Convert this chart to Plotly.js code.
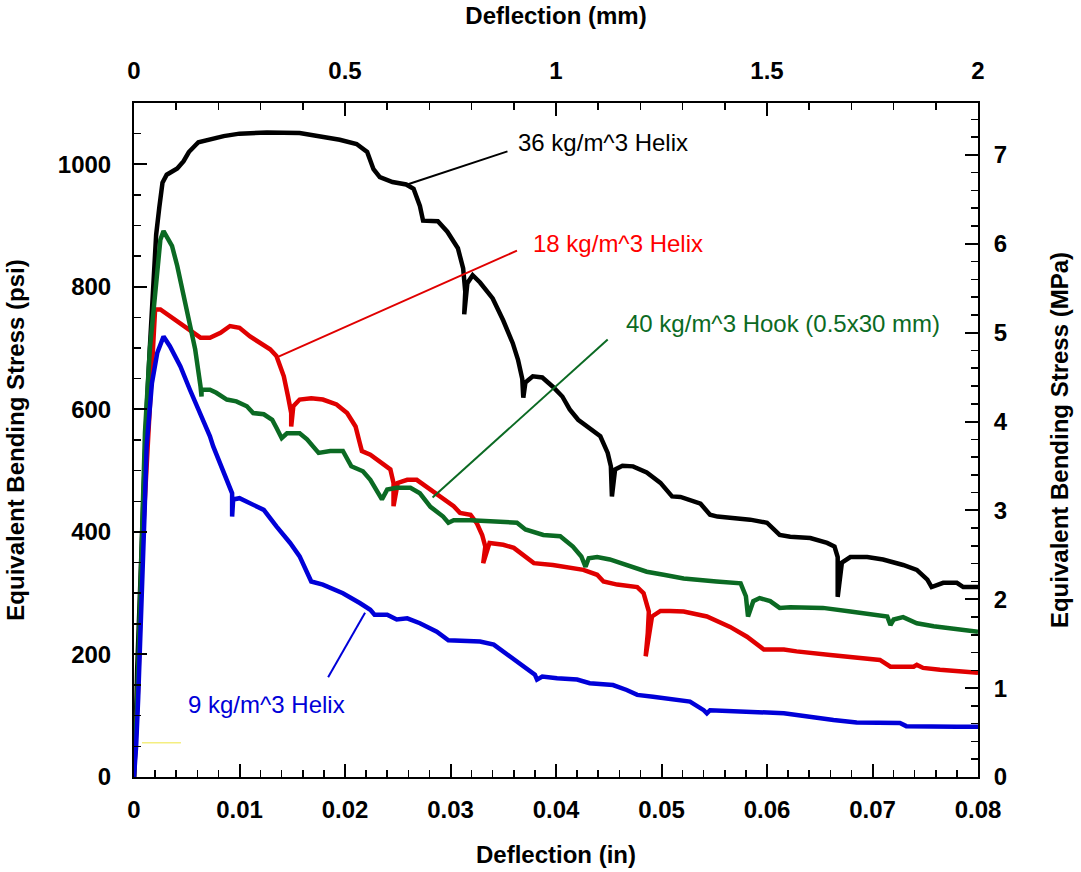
<!DOCTYPE html>
<html>
<head>
<meta charset="utf-8">
<script src="https://cdn.plot.ly/plotly-3.0.1.min.js"></script>
<style>html,body{margin:0;padding:0;background:#fff;}#chart{width:1081px;height:872px;}</style>
</head>
<body>
<div id="chart"></div>
<script>
// ---- Data (deflection in inches, equivalent bending stress in psi) ----
const helix36 = [[0,0],[0.0001,40],[0.0002,100],[0.0003,175],[0.0006,330],[0.0009,480],[0.0012,600],[0.0015,700],[0.0018,800],[0.0021,885],[0.0024,930],[0.0027,970],[0.0031,983],[0.0036,988],[0.0041,993],[0.0047,1005],[0.0052,1020],[0.0061,1036],[0.0072,1041],[0.0085,1046],[0.0100,1050],[0.0126,1052],[0.0157,1051],[0.0180,1045],[0.0195,1040],[0.0211,1033],[0.0221,1020],[0.0227,992],[0.0233,979],[0.0245,971],[0.0258,967],[0.0265,960],[0.0271,932],[0.0274,908],[0.0288,907],[0.0297,890],[0.0307,863],[0.0312,830],[0.0314,792],[0.0313,755],[0.0316,806],[0.0321,819],[0.0328,807],[0.0340,781],[0.0350,745],[0.0359,708],[0.0364,681],[0.0368,650],[0.0369,619],[0.0371,644],[0.0378,654],[0.0387,652],[0.0397,637],[0.0406,621],[0.0413,600],[0.0421,583],[0.0429,572],[0.0442,556],[0.0449,529],[0.0452,507],[0.0453,458],[0.0456,502],[0.0463,508],[0.0473,507],[0.0486,497],[0.0499,480],[0.0510,458],[0.0518,457],[0.0537,446],[0.0546,428],[0.0553,425],[0.0568,423],[0.0584,420],[0.0600,415],[0.0612,395],[0.0622,392],[0.0641,390],[0.0657,382],[0.0664,376],[0.0667,359],[0.0667,294],[0.0671,350],[0.0679,359],[0.0695,359],[0.0710,355],[0.0729,346],[0.0742,338],[0.0752,322],[0.0756,310],[0.0767,317],[0.0780,317],[0.0786,310],[0.0800,310]];
const helix18 = [[0,0],[0.0002,60],[0.0004,150],[0.0008,380],[0.0012,500],[0.0015,600],[0.0017,681],[0.0020,763],[0.0025,763],[0.0034,752],[0.0044,741],[0.0053,728],[0.0063,717],[0.0072,717],[0.0082,725],[0.0091,736],[0.0100,733],[0.0110,719],[0.0119,708],[0.0129,698],[0.0135,687],[0.0142,654],[0.0146,621],[0.0149,594],[0.0149,572],[0.0151,605],[0.0157,616],[0.0168,618],[0.0179,616],[0.0192,608],[0.0202,594],[0.0210,572],[0.0214,545],[0.0216,532],[0.0224,526],[0.0236,512],[0.0243,502],[0.0246,480],[0.0246,442],[0.0250,480],[0.0259,485],[0.0268,485],[0.0281,469],[0.0293,455],[0.0303,442],[0.0309,431],[0.0319,428],[0.0325,414],[0.0330,395],[0.0333,376],[0.0331,349],[0.0337,382],[0.0350,379],[0.0360,374],[0.0369,363],[0.0379,349],[0.0397,346],[0.0413,342],[0.0426,338],[0.0439,330],[0.0445,319],[0.0458,314],[0.0477,310],[0.0483,300],[0.0488,270],[0.0487,235],[0.0485,197],[0.0491,262],[0.0499,271],[0.0508,271],[0.0521,270],[0.0543,262],[0.0565,245],[0.0581,229],[0.0590,218],[0.0597,208],[0.0616,208],[0.0628,205],[0.0660,199],[0.0707,191],[0.0717,180],[0.0739,180],[0.0742,183],[0.0748,178],[0.0764,175],[0.0796,172],[0.0800,170]];
const hook40 = [[0,0],[0.0003,120],[0.0006,300],[0.00104,562],[0.0015,698],[0.0022,833],[0.0025,877],[0.0028,891],[0.0036,867],[0.0041,834],[0.0047,785],[0.0053,736],[0.0058,698],[0.0063,638],[0.0064,621],[0.0064,632],[0.0072,632],[0.0078,627],[0.0088,616],[0.0097,613],[0.0107,605],[0.0113,594],[0.0123,592],[0.0131,583],[0.0135,570],[0.0140,553],[0.0145,561],[0.0157,561],[0.0164,551],[0.0170,540],[0.0175,529],[0.0186,532],[0.0198,532],[0.0206,507],[0.0217,499],[0.0224,485],[0.0230,469],[0.0235,453],[0.0240,469],[0.0249,472],[0.0262,472],[0.0271,463],[0.0281,441],[0.0293,425],[0.0298,415],[0.0303,419],[0.0319,419],[0.0350,417],[0.0363,415],[0.0371,404],[0.0388,395],[0.0404,393],[0.0416,376],[0.0424,360],[0.0428,343],[0.0431,357],[0.0439,359],[0.0451,355],[0.0470,344],[0.0486,335],[0.0502,330],[0.0521,324],[0.0552,319],[0.0575,316],[0.0580,295],[0.0582,262],[0.0587,287],[0.0593,292],[0.0603,287],[0.0612,276],[0.0622,277],[0.0653,276],[0.0679,270],[0.0714,262],[0.0717,248],[0.0720,257],[0.0729,261],[0.0742,251],[0.0758,246],[0.0774,243],[0.0800,237]];
const helix9 = [[0,0],[0.0002,50],[0.0004,130],[0.0006,250],[0.0008,330],[0.0010,430],[0.0012,540],[0.0017,643],[0.0022,692],[0.0028,719],[0.0034,703],[0.0044,670],[0.0053,632],[0.0063,594],[0.0072,556],[0.0075,540],[0.0085,496],[0.0093,463],[0.0093,425],[0.0094,453],[0.0100,455],[0.0110,447],[0.0123,436],[0.0135,409],[0.0148,382],[0.0157,360],[0.0164,333],[0.0168,319],[0.0179,314],[0.0198,300],[0.0214,284],[0.0224,273],[0.0228,265],[0.0233,265],[0.0240,265],[0.0249,257],[0.0259,259],[0.0271,251],[0.0287,237],[0.0298,223],[0.0328,221],[0.0341,216],[0.0350,205],[0.0366,186],[0.0380,167],[0.0382,159],[0.0387,164],[0.0401,161],[0.0420,159],[0.0432,153],[0.0454,150],[0.0467,142],[0.0477,134],[0.0492,131],[0.0508,128],[0.0527,123],[0.0540,109],[0.0543,104],[0.0546,109],[0.0578,107],[0.0616,104],[0.0663,93],[0.0685,89],[0.0726,88],[0.0732,83],[0.0780,82],[0.0800,82]];

const seriesNames = ["36 kg/m^3 Helix", "18 kg/m^3 Helix", "40 kg/m^3 Hook (0.5x30 mm)", "9 kg/m^3 Helix"];
const bottomTickVals = [0, 0.01, 0.02, 0.03, 0.04, 0.05, 0.06, 0.07, 0.08];
const bottomTickText = ["0", "0.01", "0.02", "0.03", "0.04", "0.05", "0.06", "0.07", "0.08"];
const topTickVals = [0, 0.5, 1, 1.5, 2];
const topTickText = ["0", "0.5", "1", "1.5", "2"];
const psiTickVals = [0, 200, 400, 600, 800, 1000];
const mpaTickVals = [0, 1, 2, 3, 4, 5, 6, 7];
const PSI_PER_MPA = 145.038;
const PSI_MAX = 1100;

// label anchors: [x_in, psi] for leader line start (on curve), leader end, text position
const labelLineStart = [[0.0259, 967], [0.0137, 686], [0.0283, 456], [0.0184, 163]];
const labelLineEnd   = [[0.0354, 1021], [0.0363, 859], [0.0449, 714], [0.0219, 268]];
const labelTextPos   = [[0.0362, 1035], [0.0376, 871], [0.0464, 740], [0.0049, 118]];
const yellowMark = [[0.00076, 56], [0.00445, 56]];

// ---- Styles ----
const lineColors = ["#000000", "#e00000", "#0b6a23", "#0000d8"];
const textColors = ["#000000", "#ff0000", "#0b6a23", "#0000d8"];
const FONT = "Liberation Sans, Arial, Helvetica, sans-serif";

const allSeries = [helix36, helix18, hook40, helix9];
const traces = allSeries.map((s, i) => ({
  x: s.map(p => p[0]),
  y: s.map(p => p[1]),
  type: "scatter",
  mode: "lines",
  name: seriesNames[i],
  line: { color: lineColors[i], width: 4.5 },
  xaxis: "x", yaxis: "y",
  hoverinfo: "skip"
}));
// empty traces to activate secondary axes
traces.push({ x: [], y: [], xaxis: "x2", yaxis: "y", showlegend: false, type: "scatter", mode: "lines" });
traces.push({ x: [], y: [], xaxis: "x", yaxis: "y2", showlegend: false, type: "scatter", mode: "lines" });

const shapes = [];
const annotations = [];
for (let i = 0; i < seriesNames.length; i++) {
  shapes.push({
    type: "line", xref: "x", yref: "y",
    x0: labelLineStart[i][0], y0: labelLineStart[i][1],
    x1: labelLineEnd[i][0], y1: labelLineEnd[i][1],
    line: { color: lineColors[i], width: 2 }
  });
  annotations.push({
    xref: "x", yref: "y", x: labelTextPos[i][0], y: labelTextPos[i][1],
    text: seriesNames[i], showarrow: false, xanchor: "left", yanchor: "middle",
    font: { family: FONT, size: 24, color: textColors[i] }
  });
}
shapes.push({
  type: "line", xref: "x", yref: "y",
  x0: yellowMark[0][0], y0: yellowMark[0][1], x1: yellowMark[1][0], y1: yellowMark[1][1],
  line: { color: "#f4ee80", width: 1.5 }
});

const tickFont = { family: FONT, size: 24, color: "#000", weight: "bold" };
const titleFont = { family: FONT, size: 24, color: "#000", weight: "bold" };

const layout = {
  width: 1081, height: 872,
  margin: { l: 134, r: 103, t: 103, b: 95 },
  paper_bgcolor: "#ffffff", plot_bgcolor: "#ffffff",
  showlegend: false,
  font: { family: FONT },
  xaxis: {
    range: [0, 0.08], tickvals: bottomTickVals, ticktext: bottomTickText,
    ticks: "inside", ticklen: 13, tickwidth: 2, tickcolor: "#000",
    minor: { dtick: 0.002, ticks: "inside", ticklen: 7, tickwidth: 1.5, tickcolor: "#000" },
    showline: true, linecolor: "#000", linewidth: 2, showgrid: false, zeroline: false,
    tickfont: tickFont, ticklabelstandoff: 10,
    title: { text: "Deflection (in)", font: titleFont, standoff: 24 }
  },
  xaxis2: {
    overlaying: "x", side: "top", range: [0, 2], tickvals: topTickVals, ticktext: topTickText,
    ticks: "inside", ticklen: 13, tickwidth: 2, tickcolor: "#000",
    minor: { dtick: 0.1, ticks: "inside", ticklen: 7, tickwidth: 1.5, tickcolor: "#000" },
    showline: true, linecolor: "#000", linewidth: 2, showgrid: false, zeroline: false,
    tickfont: tickFont, ticklabelstandoff: 12,
    title: { text: "Deflection (mm)", font: titleFont, standoff: 26 }
  },
  yaxis: {
    range: [0, PSI_MAX], tickvals: psiTickVals,
    ticks: "inside", ticklen: 13, tickwidth: 2, tickcolor: "#000",
    minor: { dtick: 50, ticks: "inside", ticklen: 7, tickwidth: 1.5, tickcolor: "#000" },
    showline: true, linecolor: "#000", linewidth: 2, showgrid: false, zeroline: false,
    tickfont: tickFont, ticklabelstandoff: 16,
    title: { text: "Equivalent Bending Stress (psi)", font: titleFont, standoff: 26 }
  },
  yaxis2: {
    overlaying: "y", side: "right", range: [0, PSI_MAX / PSI_PER_MPA], tickvals: mpaTickVals,
    ticks: "inside", ticklen: 13, tickwidth: 2, tickcolor: "#000",
    minor: { dtick: 0.2, ticks: "inside", ticklen: 7, tickwidth: 1.5, tickcolor: "#000" },
    showline: true, linecolor: "#000", linewidth: 2, showgrid: false, zeroline: false,
    tickfont: tickFont, ticklabelstandoff: 9,
    title: { text: "Equivalent Bending Stress (MPa)", font: titleFont, standoff: 44 }
  },
  shapes: shapes,
  annotations: annotations
};

Plotly.newPlot("chart", traces, layout, { staticPlot: true, displayModeBar: false });
</script>
</body>
</html>
